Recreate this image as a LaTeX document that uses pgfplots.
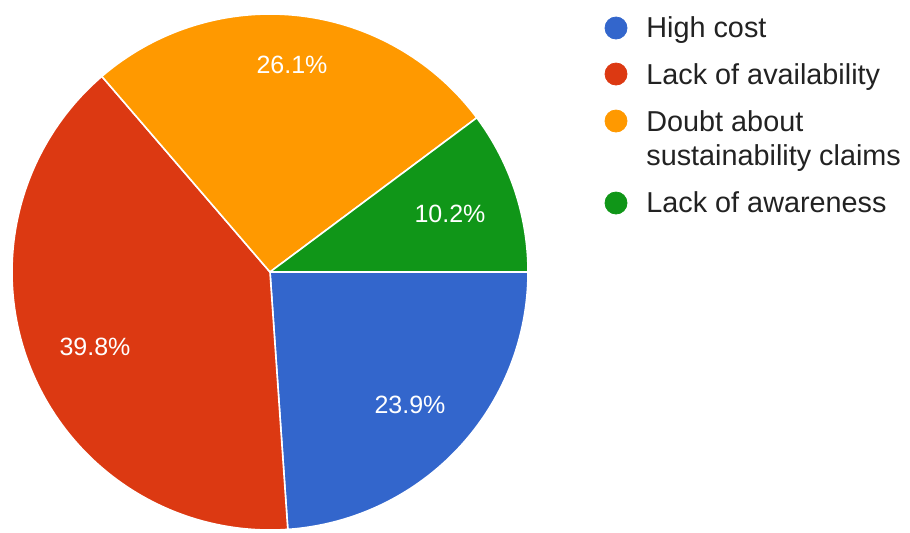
\documentclass[border=0pt]{standalone}
\usepackage{pgfplots}
\pgfplotsset{compat=1.18}
\usepackage{fontspec}
\setmainfont{Liberation Sans}
\definecolor{cBlue}{HTML}{3366CC}
\definecolor{cRed}{HTML}{DC3912}
\definecolor{cOrange}{HTML}{FF9900}
\definecolor{cGreen}{HTML}{109618}
\definecolor{cText}{HTML}{222222}
% shares (percent)
\def\vA{23.9}% High cost
\def\vB{39.8}% Lack of availability
\def\vC{26.1}% Doubt about sustainability claims
\def\vD{10.2}% Lack of awareness
\begin{document}
\begin{tikzpicture}
\pgfmathsetmacro\aA{-3.6*\vA}
\pgfmathsetmacro\aB{-3.6*(\vA+\vB)}
\pgfmathsetmacro\aC{-3.6*(\vA+\vB+\vC)}
\pgfmathsetmacro\aD{-3.6*(\vA+\vB+\vC+\vD)}
\useasboundingbox (0,0) rectangle (455pt,266pt);
\begin{axis}[
  at={(0,0)}, anchor=south west,
  width=455pt, height=266pt, scale only axis,
  hide axis, clip=false,
  xmin=0, xmax=910, ymin=0, ymax=532, y dir=reverse,
  enlargelimits=false,
]
\addplot[fill=cBlue, draw=white, line width=0.8pt, line join=round, domain=\aA:0, samples=120, variable=\t]
  ({270+258*cos(\t)}, {272-258*sin(\t)}) -- (axis cs:270,272) -- cycle;
\addplot[fill=cRed, draw=white, line width=0.8pt, line join=round, domain=\aB:\aA, samples=160, variable=\t]
  ({270+258*cos(\t)}, {272-258*sin(\t)}) -- (axis cs:270,272) -- cycle;
\addplot[fill=cOrange, draw=white, line width=0.8pt, line join=round, domain=\aC:\aB, samples=120, variable=\t]
  ({270+258*cos(\t)}, {272-258*sin(\t)}) -- (axis cs:270,272) -- cycle;
\addplot[fill=cGreen, draw=white, line width=0.8pt, line join=round, domain=\aD:\aC, samples=80, variable=\t]
  ({270+258*cos(\t)}, {272-258*sin(\t)}) -- (axis cs:270,272) -- cycle;

% slice labels
\node[text=white, font=\fontsize{12.5pt}{14pt}\selectfont] at (axis cs:410,405) {23.9\%};
\node[text=white, font=\fontsize{12.5pt}{14pt}\selectfont] at (axis cs:95,347) {39.8\%};
\node[text=white, font=\fontsize{12.5pt}{14pt}\selectfont] at (axis cs:292,65) {26.1\%};
\node[text=white, font=\fontsize{12.5pt}{14pt}\selectfont] at (axis cs:450,214) {10.2\%};

% legend markers
\addplot[only marks, mark=*, mark size=5.5pt, color=cBlue] coordinates {(616,28)};
\addplot[only marks, mark=*, mark size=5.5pt, color=cRed] coordinates {(616,74)};
\addplot[only marks, mark=*, mark size=5.5pt, color=cOrange] coordinates {(616,121)};
\addplot[only marks, mark=*, mark size=5.5pt, color=cGreen] coordinates {(616,203)};

% legend texts
\begin{scope}[every node/.style={anchor=base west, inner sep=0pt, text=cText, font=\fontsize{14.4pt}{17pt}\selectfont}]
\node at (axis cs:646,37) {High cost};
\node at (axis cs:646,84) {Lack of availability};
\node at (axis cs:646,131) {Doubt about};
\node at (axis cs:646,165) {sustainability claims};
\node at (axis cs:646,212) {Lack of awareness};
\end{scope}
\end{axis}
\end{tikzpicture}
\end{document}
